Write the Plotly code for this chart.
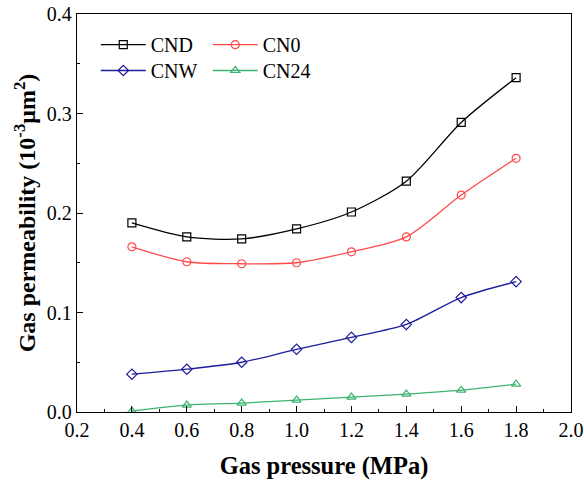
import plotly.graph_objects as go

pressure = [0.4, 0.6, 0.8, 1.0, 1.2, 1.4, 1.6, 1.8]
cnd = [0.190, 0.176, 0.174, 0.184, 0.201, 0.232, 0.291, 0.336]
cn0 = [0.166, 0.151, 0.149, 0.150, 0.161, 0.176, 0.218, 0.255]
cnw = [0.038, 0.043, 0.050, 0.063, 0.075, 0.088, 0.115, 0.131]
cn24 = [0.001, 0.007, 0.009, 0.012, 0.015, 0.018, 0.022, 0.028]

series = [
    ("CND", cnd, "#000000", "square-open", "legend"),
    ("CN0", cn0, "#FF4A4A", "circle-open", "legend"),
    ("CNW", cnw, "#1C1C9C", "diamond-open", "legend2"),
    ("CN24", cn24, "#3CB371", "triangle-up-open", "legend2"),
]

fig = go.Figure()
for name, vals, color, sym, leg in series:
    fig.add_trace(go.Scatter(
        x=pressure, y=vals, name=name, mode="lines+markers",
        line=dict(color=color, width=1.3, shape="spline", smoothing=0.8),
        marker=dict(symbol=sym, size=8, color=color, line=dict(width=1.2, color=color)),
        legend=leg,
    ))

font = dict(family="Liberation Serif, Times New Roman, serif", size=20, color="black")

axis_common = dict(
    showline=True, linecolor="black", linewidth=1.3, mirror=True,
    ticks="inside", ticklen=6, tickwidth=1.2, tickcolor="black",
    showgrid=False, zeroline=False, automargin=False,
    ticklabeloverflow="allow",
)

legend_common = dict(
    orientation="h", xanchor="left", yanchor="top",
    bgcolor="rgba(0,0,0,0)", font=dict(size=20), itemwidth=45,
    tracegroupgap=0, entrywidth=52, entrywidthmode="pixels",
)

fig.update_layout(
    width=584, height=481,
    margin=dict(l=77, r=13, t=14, b=69),
    paper_bgcolor="white", plot_bgcolor="white",
    font=font,
    xaxis=dict(
        range=[0.2, 2.0], dtick=0.2, tick0=0.2, tickformat=".1f",
        minor=dict(ticks="inside", dtick=0.1, ticklen=3, tickcolor="black", tickwidth=1),
        title=dict(text="<b>Gas pressure (MPa)</b>", font=dict(size=24.5), standoff=16),
        **axis_common,
    ),
    yaxis=dict(
        range=[0, 0.4], dtick=0.1, tickformat=".1f",
        minor=dict(ticks="inside", dtick=0.05, ticklen=3, tickcolor="black", tickwidth=1),
        title=dict(text="<b>Gas permeability (10<sup>-3</sup>μm<sup>2</sup>)</b>", font=dict(size=24), standoff=4),
        **axis_common,
    ),
    legend=dict(x=0.038, y=0.972, **legend_common),
    legend2=dict(x=0.038, y=0.907, **legend_common),
)

fig.write_html(
    "out.html",
    config={"displayModeBar": False},
    post_script="document.body.style.margin='0';document.body.style.overflow='hidden';",
)
